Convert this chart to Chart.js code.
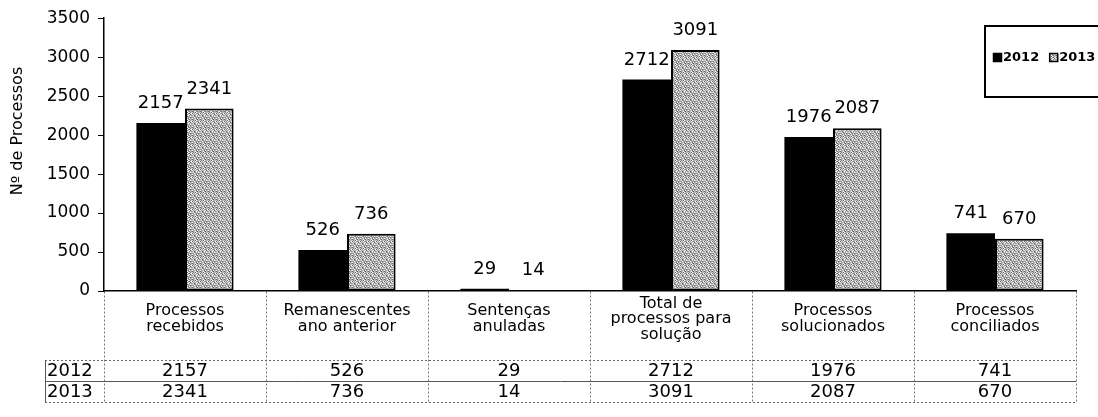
<!DOCTYPE html>
<html>
<head>
<meta charset="utf-8">
<script src="https://cdn.jsdelivr.net/npm/chart.js"></script>
<style>
  body { margin: 0; background: #fff; }
</style>
</head>
<body>
<canvas id="chart" width="1098" height="417"></canvas>
<script>
// Chart data
const categories = [
  ['Processos', 'recebidos'],
  ['Remanescentes', 'ano anterior'],
  ['Sentenças', 'anuladas'],
  ['Total de', 'processos para', 'solução'],
  ['Processos', 'solucionados'],
  ['Processos', 'conciliados']
];
const years = ['2012', '2013'];
const values2012 = [2157, 526, 29, 2712, 1976, 741];
const values2013 = [2341, 736, 14, 3091, 2087, 670];
const yTicks = [0, 500, 1000, 1500, 2000, 2500, 3000, 3500];
const yTitle = 'Nº de Processos';

const FONT = 'DejaVu Sans';
const canvas = document.getElementById('chart');
const ctx0 = canvas.getContext('2d');

// grey speckled fill used for the 2013 bars
function makeSpeckle() {
  const rows = [
    '12130121',
    '31202310',
    '02121031',
    '21310212',
    '10231201',
    '23012132',
    '01213021',
    '32102312'
  ];
  const shades = ['#ffffff', '#c4c4c4', '#9a9a9a', '#666666'];
  const c = document.createElement('canvas');
  c.width = 8; c.height = 8;
  const g = c.getContext('2d');
  rows.forEach((r, y) => {
    for (let x = 0; x < 8; x++) {
      g.fillStyle = shades[+r[x]];
      g.fillRect(x, y, 1, 1);
    }
  });
  return ctx0.createPattern(c, 'repeat');
}
const speckle = makeSpeckle();

// value labels above bars
const barLabels = {
  id: 'barLabels',
  afterDatasetsDraw(chart) {
    const ctx = chart.ctx;
    ctx.save();
    ctx.font = '18px "' + FONT + '"';
    ctx.fillStyle = '#000';
    ctx.textAlign = 'center';
    ctx.textBaseline = 'alphabetic';
    chart.data.datasets.forEach((ds, d) => {
      chart.getDatasetMeta(d).data.forEach((bar, i) => {
        ctx.fillText(String(ds.data[i]), bar.x, bar.y - 15);
      });
    });
    ctx.restore();
  }
};

// data table under the axis, legend box and axis title
const extras = {
  id: 'extras',
  afterDraw(chart) {
    const ctx = chart.ctx;
    const xs = chart.scales.x;
    const area = chart.chartArea;
    const top = area.bottom;
    const row1 = top + 69;
    const rowH = 21;
    const left = 45;
    const right = area.right;

    ctx.save();
    // horizontal table lines
    ctx.strokeStyle = '#666';
    ctx.lineWidth = 1;
    ctx.setLineDash([2, 2]);
    [row1, row1 + 2 * rowH].forEach(y => {
      ctx.beginPath();
      ctx.moveTo(left, y + 0.5);
      ctx.lineTo(right, y + 0.5);
      ctx.stroke();
    });
    ctx.setLineDash([]);
    ctx.strokeStyle = '#555';
    ctx.beginPath();
    ctx.moveTo(left, row1 + rowH + 0.5);
    ctx.lineTo(right, row1 + rowH + 0.5);
    ctx.stroke();
    ctx.beginPath();
    ctx.moveTo(left + 0.5, row1);
    ctx.lineTo(left + 0.5, row1 + 2 * rowH);
    ctx.stroke();

    // category labels
    ctx.fillStyle = '#000';
    ctx.textAlign = 'center';
    ctx.textBaseline = 'middle';
    ctx.font = '16px "' + FONT + '"';
    const lh = 15.5;
    categories.forEach((lines, i) => {
      const cx = xs.getPixelForValue(i);
      const y0 = top + 28 - (lines.length - 1) * lh / 2;
      lines.forEach((t, k) => ctx.fillText(t, cx, y0 + k * lh));
    });

    // value rows
    ctx.font = '18px "' + FONT + '"';
    chart.data.datasets.forEach((ds, d) => {
      const cy = row1 + d * rowH + rowH / 2 + 1;
      ctx.textAlign = 'left';
      ctx.fillText(ds.label, left + 2, cy);
      ctx.textAlign = 'center';
      ds.data.forEach((v, i) => ctx.fillText(String(v), xs.getPixelForValue(i), cy));
    });

    // legend box
    ctx.strokeStyle = '#000';
    ctx.lineWidth = 2;
    ctx.strokeRect(985, 26, 140, 71);
    ctx.font = 'bold 13px "' + FONT + '"';
    ctx.textAlign = 'left';
    ctx.textBaseline = 'middle';
    let lx = 993;
    chart.data.datasets.forEach(ds => {
      ctx.fillStyle = ds.backgroundColor;
      ctx.fillRect(lx, 53, 9, 9);
      ctx.lineWidth = 1.5;
      ctx.strokeStyle = '#000';
      ctx.strokeRect(lx + 0.5, 53.5, 8, 8);
      ctx.fillStyle = '#000';
      ctx.fillText(ds.label, lx + 10, 58);
      lx += 10 + ctx.measureText(ds.label).width + 10;
    });

    // y axis title
    ctx.save();
    ctx.translate(18, 131);
    ctx.rotate(-Math.PI / 2);
    ctx.font = '16px "' + FONT + '"';
    ctx.textAlign = 'center';
    ctx.textBaseline = 'middle';
    ctx.fillText(yTitle, 0, 0);
    ctx.restore();

    ctx.restore();
  }
};

new Chart(canvas, {
  type: 'bar',
  data: {
    labels: categories.map(l => l.join(' ')),
    datasets: [{
      label: years[0],
      data: values2012,
      backgroundColor: '#000',
      borderColor: '#000',
      borderWidth: 0
    }, {
      label: years[1],
      data: values2013,
      backgroundColor: speckle,
      borderColor: '#000',
      borderWidth: 2,
      borderSkipped: false
    }]
  },
  options: {
    responsive: false,
    animation: false,
    layout: { padding: { top: 18, right: 22, bottom: 15, left: 0 } },
    datasets: { bar: { categoryPercentage: 0.6, barPercentage: 1 } },
    plugins: {
      legend: { display: false },
      tooltip: { enabled: false }
    },
    scales: {
      x: {
        ticks: { display: false },
        grid: {
          display: true,
          offset: true,
          drawOnChartArea: false,
          drawTicks: true,
          tickLength: 111,
          tickColor: '#777',
          tickWidth: 1,
          tickBorderDash: [2, 2]
        },
        border: { display: true, color: '#000', width: 1.5 }
      },
      y: {
        min: yTicks[0],
        max: yTicks[yTicks.length - 1],
        ticks: {
          stepSize: yTicks[1] - yTicks[0],
          color: '#000',
          padding: 8,
          font: { family: FONT, size: 17 },
          callback: v => String(v)
        },
        grid: {
          display: true,
          drawOnChartArea: false,
          drawTicks: true,
          tickLength: 6,
          color: '#000'
        },
        border: { display: true, color: '#000', width: 1.5 },
        afterFit(scale) { scale.width = 104; }
      }
    }
  },
  plugins: [barLabels, extras]
});
</script>
</body>
</html>
